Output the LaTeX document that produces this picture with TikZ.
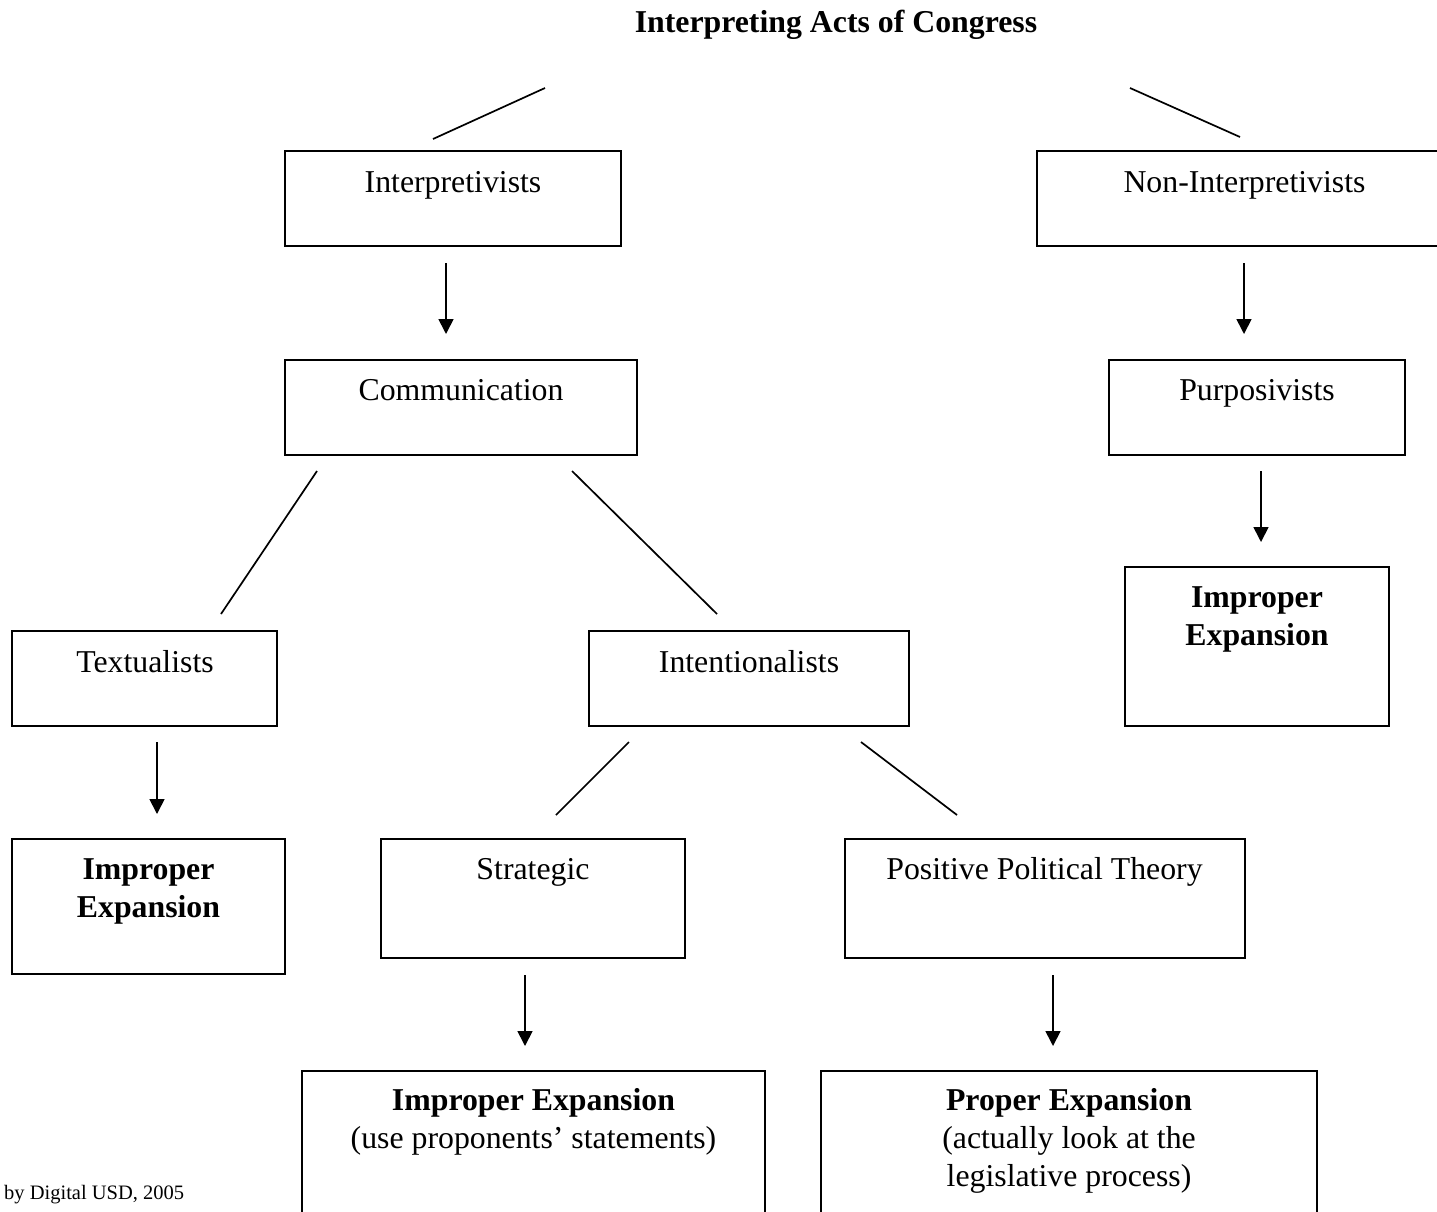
\documentclass[tikz,border=0pt]{standalone}
\usepackage{fontspec}
\setmainfont{Liberation Serif}
\usetikzlibrary{arrows.meta}
\begin{document}
\begin{tikzpicture}[x=1pt,y=-1pt,
  box/.style={draw, line width=2.6pt, inner sep=0pt},
  lbl/.style={anchor=base, inner sep=0pt, font=\fontsize{31.8}{38}\selectfont},
  blbl/.style={lbl, font=\fontsize{31.8}{38}\selectfont\bfseries},
  link/.style={line width=1.7pt},
  arr/.style={line width=1.7pt, -{Triangle[length=15pt,width=15pt]}}]
\useasboundingbox (0,0) rectangle (1437,1211);
\clip (0,0) rectangle (1437,1211);

% title
\node[blbl] (title) at (836,32) {Interpreting Acts of Congress};

% boxes
\node[box, minimum width=336, minimum height=95] (interp) at (453,198.5) {};
\node[box, minimum width=423, minimum height=95] (noninterp) at (1248.5,198.5) {};
\node[box, minimum width=352, minimum height=95] (comm) at (461,407.5) {};
\node[box, minimum width=296, minimum height=95] (purp) at (1257,407.5) {};
\node[box, minimum width=264, minimum height=159] (impR) at (1257,646.5) {};
\node[box, minimum width=265, minimum height=95] (textual) at (144.5,678.5) {};
\node[box, minimum width=320, minimum height=95] (intent) at (749,678.5) {};
\node[box, minimum width=273, minimum height=135] (impL) at (148.5,906.5) {};
\node[box, minimum width=304, minimum height=119] (strat) at (533,898.5) {};
\node[box, minimum width=400, minimum height=119] (ppt) at (1045,898.5) {};
\node[box, minimum width=463, minimum height=189] (impB) at (533.5,1165.5) {};
\node[box, minimum width=496, minimum height=189] (prop) at (1069,1165.5) {};

% texts
\node[lbl] (tinterp) at (453,192) {Interpretivists};
\node[lbl] (tnoninterp) at (1244.5,192) {Non-Interpretivists};
\node[lbl] (tcomm) at (461,400) {Communication};
\node[lbl] (tpurp) at (1257,400) {Purposivists};
\node[blbl] (timpR1) at (1257,607) {Improper};
\node[blbl] (timpR2) at (1257,645) {Expansion};
\node[lbl] (ttextual) at (145,672) {Textualists};
\node[lbl] (tintent) at (749,672) {Intentionalists};
\node[blbl] (timpL1) at (148.5,879) {Improper};
\node[blbl] (timpL2) at (148.5,917) {Expansion};
\node[lbl] (tstrat) at (533,879) {Strategic};
\node[lbl] (tppt) at (1044.5,879) {Positive Political Theory};
\node[blbl] (timpB1) at (533.5,1110) {Improper Expansion};
\node[lbl] (timpB2) at (533.5,1148) {(use proponents’ statements)};
\node[blbl] (tprop1) at (1069,1110) {Proper Expansion};
\node[lbl] (tprop2) at (1069,1148) {(actually look at the};
\node[lbl] (tprop3) at (1069,1186) {legislative process)};

\node[anchor=base west, inner sep=0pt, font=\fontsize{20.5}{24}\selectfont] (credit) at (4,1199) {by Digital USD, 2005};

% connector end points
\coordinate (tl1) at (545,88);   \coordinate (tl2) at (433,139);
\coordinate (tr1) at (1130,88);  \coordinate (tr2) at (1240,137);
\coordinate (a1s) at (446,263);  \coordinate (a1e) at (446,334);
\coordinate (a2s) at (1244,263); \coordinate (a2e) at (1244,334);
\coordinate (c1s) at (317,471);  \coordinate (c1e) at (221,614);
\coordinate (c2s) at (572,471);  \coordinate (c2e) at (717,614);
\coordinate (a3s) at (1261,471); \coordinate (a3e) at (1261,542);
\coordinate (a4s) at (157,742);  \coordinate (a4e) at (157,814);
\coordinate (i1s) at (629,742);  \coordinate (i1e) at (556,815);
\coordinate (i2s) at (861,742);  \coordinate (i2e) at (957,815);
\coordinate (a5s) at (525,975);  \coordinate (a5e) at (525,1046);
\coordinate (a6s) at (1053,975); \coordinate (a6e) at (1053,1046);

% connectors
\draw[link] (tl1) -- (tl2);
\draw[link] (tr1) -- (tr2);
\draw[arr] (a1s) -- (a1e);
\draw[arr] (a2s) -- (a2e);
\draw[link] (c1s) -- (c1e);
\draw[link] (c2s) -- (c2e);
\draw[arr] (a3s) -- (a3e);
\draw[arr] (a4s) -- (a4e);
\draw[link] (i1s) -- (i1e);
\draw[link] (i2s) -- (i2e);
\draw[arr] (a5s) -- (a5e);
\draw[arr] (a6s) -- (a6e);
\end{tikzpicture}
\end{document}
